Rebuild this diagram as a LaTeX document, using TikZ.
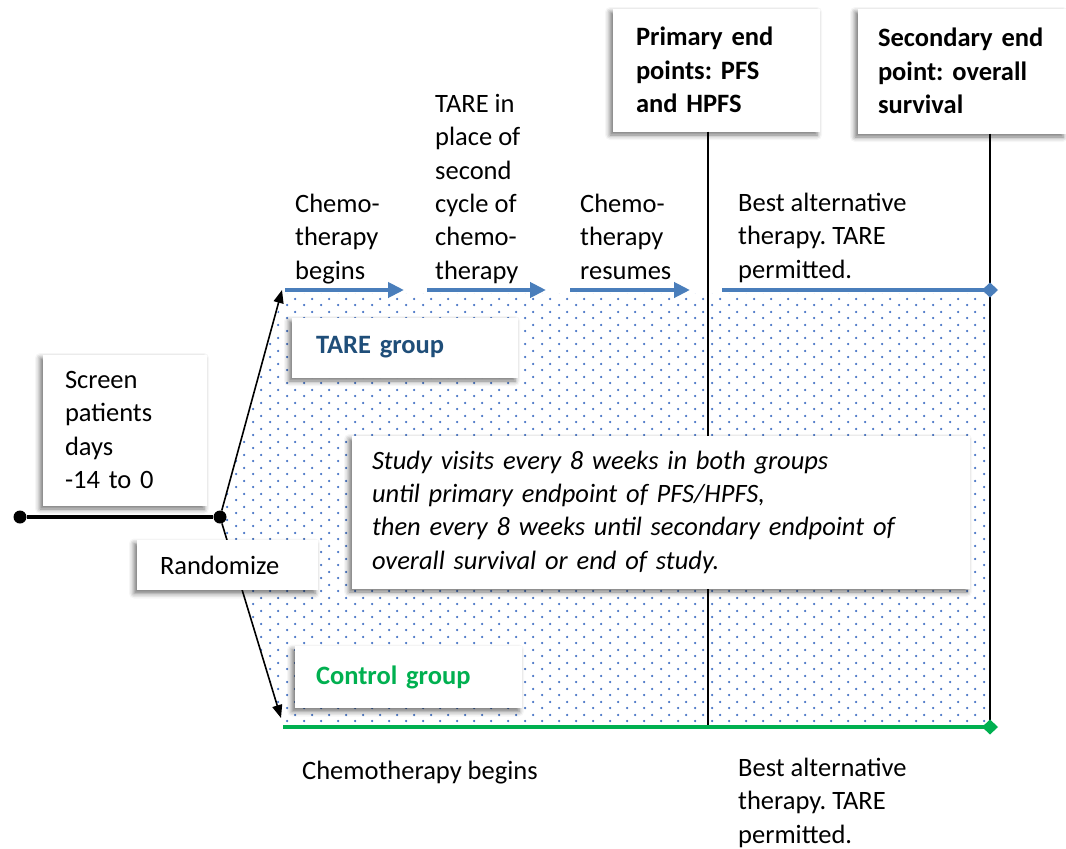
\documentclass[tikz,border=0pt]{standalone}
\usepackage{fontspec}
\setmainfont{Carlito}
\usetikzlibrary{arrows.meta,patterns.meta,shadows.blur,positioning}
\definecolor{tareblue}{HTML}{4A7EBB}
\definecolor{taretext}{HTML}{1F4E79}
\definecolor{ctrlgreen}{HTML}{00B050}
\definecolor{dotblue}{HTML}{4472C4}
\newcommand{\diagfont}{\fontsize{26.5}{33.3}\selectfont\frenchspacing}
% staggered dots of the study period
\pgfdeclarepattern{
  name=studydots, type=uncolored,
  bottom left={\pgfpoint{0pt}{0pt}}, top right={\pgfpoint{16.6pt}{12.5pt}},
  tile size={\pgfpoint{16.6pt}{12.5pt}},
  code={
    \pgfpathcircle{\pgfpoint{4.15pt}{3.1pt}}{1.3pt}
    \pgfpathcircle{\pgfpoint{12.45pt}{9.35pt}}{1.3pt}
    \pgfusepath{fill}
  }
}
\tikzset{
  whitebox/.style={fill=white, inner sep=0pt, align=left,
    blur shadow={shadow xshift=-3pt, shadow yshift=-3.5pt, shadow blur radius=5pt, shadow opacity=55}},
  plaintext/.style={inner sep=0pt, align=left, anchor=base west},
  bigdot/.style={circle, fill=black, inner sep=0pt, minimum size=13pt},
  splitarrow/.style={line width=1.6pt, -{Triangle[length=13pt,width=10pt]}},
  tarearrow/.style={tareblue, line width=4pt, -{Triangle[length=16pt,width=15pt]}},
  endline/.style={line width=1.8pt}
}
\begin{document}
\begin{tikzpicture}[x=1pt, y=-1pt, every node/.append style={font=\diagfont}]
\useasboundingbox (0,0) rectangle (1066,849);
\def \tarey {290}
\def \ctrly {727}
\def \xend {990}
\coordinate (randpt) at (220,517);
\coordinate (tare0) at (282,\tarey);
\coordinate (ctrl0) at (281,718);
\coordinate (primend) at (708,725);
\coordinate (secend) at (\xend,727);

\fill[pattern=studydots, pattern color=dotblue]
  (randpt) -- (283,293) -- (\xend,293) -- (\xend,725) -- (283,725) -- cycle;

\node[whitebox, minimum width=207pt, minimum height=123pt, text width=161pt, font=\diagfont\bfseries] (primary) at (716.5,70) {Primary end\\points: PFS\\and HPFS};
\node[whitebox, minimum width=208pt, minimum height=125pt, text width=168pt, font=\diagfont\bfseries] (secondary) at (962,71) {Secondary end\\point: overall\\survival};
\draw[endline] (primend |- primary.south) -- (primend);
\draw[endline] (secend |- secondary.south) -- (secend);

% screening and randomisation
\node[bigdot] (start) at (20,517) {};
\node[bigdot] (rand) at (randpt) {};
\draw[line width=4pt] (start) -- (rand);
\draw[splitarrow] (rand) -- (tare0);
\draw[splitarrow] (rand) -- (ctrl0);

\node[whitebox, minimum width=164pt, minimum height=151pt, text width=120pt] (screen) at (125,430) {Screen\\patients\\days\\-14 to 0};
\node[whitebox, minimum width=181pt, minimum height=50pt, text width=135pt] (randomize) at (227.5,565) {Randomize};
\node[whitebox, minimum width=226pt, minimum height=60pt, text width=178pt, font=\diagfont\bfseries, text=taretext] (taregroup) at (405,347.5) {TARE group};
\node[whitebox, minimum width=227pt, minimum height=62pt, text width=185pt, font=\diagfont\bfseries, text=ctrlgreen] (ctrlgroup) at (408.5,677) {Control group};
\node[whitebox, minimum width=618pt, minimum height=153pt, text width=578pt, font=\diagfont\itshape] (visits) at (661,512) {Study visits every 8 weeks in both groups\\until primary endpoint of PFS/HPFS,\\then every 8 weeks until secondary endpoint of\\overall survival or end of study.};

% TARE arm
\foreach \a/\b [count=\i] in {285/404, 427/546, 570/690}
{
  \coordinate (ts\i) at (\a,\tarey);
  \coordinate (te\i) at (\b,\tarey);
  \draw[tarearrow] (ts\i) -- (te\i);
}
\coordinate (ts4) at (722,\tarey);
\coordinate (te4) at (\xend+8,\tarey);
\draw[tareblue, line width=4pt, -{Diamond[length=16pt,width=15pt]}] (ts4) -- (te4);

% control arm
\coordinate (cs) at (283,\ctrly);
\coordinate (ce) at (\xend+8,\ctrly);
\draw[ctrlgreen, line width=4.5pt, -{Diamond[length=16pt,width=15pt]}] (cs) -- (ce);

\node[plaintext] (chemo1) at (295,279) {Chemo-\\therapy\\begins};
\node[plaintext] (taretxt) at (435,279) {TARE in\\place of\\second\\cycle of\\chemo-\\therapy};
\node[plaintext] (chemo2) at (580,279) {Chemo-\\therapy\\resumes};
\node[plaintext] (best1) at (738,278) {Best alternative\\therapy. TARE\\permitted.};
\node[plaintext] (chemo3) at (302,779) {Chemotherapy begins};
\node[plaintext] (best2) at (738,843) {Best alternative\\therapy. TARE\\permitted.};
\end{tikzpicture}
\end{document}
